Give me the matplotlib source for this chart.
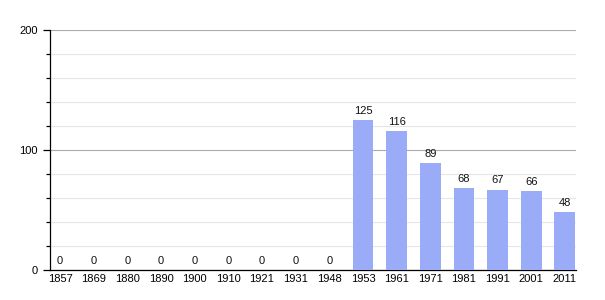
import matplotlib.pyplot as plt
from matplotlib.ticker import MultipleLocator

years = ['1857', '1869', '1880', '1890', '1900', '1910', '1921', '1931', '1948',
         '1953', '1961', '1971', '1981', '1991', '2001', '2011']
population = [0, 0, 0, 0, 0, 0, 0, 0, 0, 125, 116, 89, 68, 67, 66, 48]

plt.rcParams['font.family'] = ['Liberation Sans', 'DejaVu Sans']

fig = plt.figure(figsize=(6.05, 3.0), dpi=100)
ax = fig.add_axes([50 / 605, 0.1, 526 / 605, 0.8])

x = list(range(len(years)))
bars = ax.bar(x, population, width=0.62, color='#9aabf7', zorder=3)

for xi, v in zip(x, population):
    ax.annotate(str(v), (xi, v), xytext=(0, 3), textcoords='offset points',
                ha='center', va='bottom', fontsize=8, color='#111111', zorder=4)

ax.set_xlim(-0.3, 15.33)
ax.set_ylim(0, 200)
ax.set_xticks(x)
ax.set_xticklabels(years)
ax.yaxis.set_major_locator(MultipleLocator(100))
ax.yaxis.set_minor_locator(MultipleLocator(20))

ax.grid(axis='y', which='major', color='#aaaaaa', linewidth=0.8, zorder=0)
ax.grid(axis='y', which='minor', color='#e6e6e6', linewidth=0.8, zorder=0)

for s in ['top', 'right']:
    ax.spines[s].set_visible(False)
ax.spines['left'].set_linewidth(0.9)
ax.spines['bottom'].set_linewidth(0.9)

ax.tick_params(axis='x', length=0, labelsize=8, pad=3)
ax.tick_params(axis='y', which='major', length=5, width=0.9, labelsize=8, pad=4)
ax.tick_params(axis='y', which='minor', length=3, width=0.9)

fig.savefig('out.png', dpi=100)
